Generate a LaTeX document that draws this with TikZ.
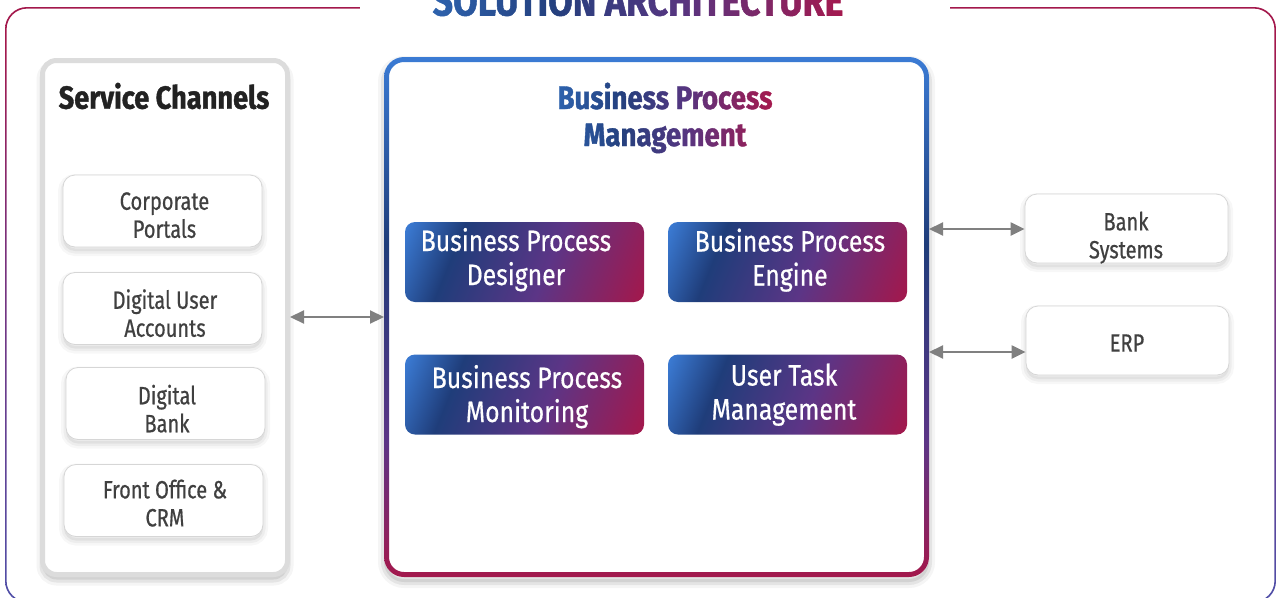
\documentclass[tikz,border=0pt]{standalone}
\usepackage{fontspec}
\setmainfont[FakeStretch=0.85]{Fira Sans}
\newfontfamily\medfont[FakeStretch=0.8, FakeBold=0.6]{Fira Sans}
\newfontfamily\boxfont[FakeStretch=0.84, FakeBold=0.5]{Fira Sans}
\newfontfamily\heavyfont[FakeStretch=0.85, FakeBold=1.2]{Fira Sans}
\usetikzlibrary{arrows.meta,fadings,calc}

\definecolor{gblue}{HTML}{3B7BD4}
\definecolor{gnavy}{HTML}{1F3D7A}
\definecolor{gpurple}{HTML}{5C3586}
\definecolor{gcrimson}{HTML}{A3184C}
\definecolor{tblue}{HTML}{2E64B0}
\definecolor{tnavy}{HTML}{24407E}
\definecolor{tpurple}{HTML}{573580}
\definecolor{tcrimson}{HTML}{A8184C}
\definecolor{fblue}{HTML}{4F4FA8}
\definecolor{fpurple}{HTML}{7A2F7A}
\definecolor{txtgray}{HTML}{404040}
\definecolor{titleblack}{HTML}{222222}
\definecolor{arrgray}{HTML}{808080}
\definecolor{panelgray}{HTML}{DCDCDC}
\definecolor{boxborder}{HTML}{D6D6D6}

\pgfdeclarehorizontalshading{boxgrad}{100bp}{color(0bp)=(gblue); color(18bp)=(gblue); color(32bp)=(gnavy); color(56bp)=(gpurple); color(82bp)=(gcrimson); color(100bp)=(gcrimson)}
\pgfdeclarehorizontalshading{titlegrad}{100bp}{color(0bp)=(tblue); color(25bp)=(tblue); color(40bp)=(tnavy); color(55bp)=(tpurple); color(75bp)=(tcrimson); color(100bp)=(tcrimson)}
\pgfdeclareverticalshading{bordgrad}{100bp}{color(0bp)=(gcrimson); color(25bp)=(gcrimson); color(38bp)=(gpurple); color(57bp)=(gnavy); color(75bp)=(gblue); color(100bp)=(gblue)}
\pgfdeclareverticalshading{framegrad}{100bp}{color(0bp)=(fblue); color(25bp)=(fblue); color(55bp)=(fpurple); color(72bp)=(gcrimson); color(100bp)=(gcrimson)}

\begin{document}
\pgfdeclarefading{titlefade}{%
  \pgfpicture
  \pgfpathrectangle{\pgfpoint{-260pt}{-40pt}}{\pgfpoint{520pt}{80pt}}%
  \pgfusepath{use as bounding box}%
  \pgftext[base]{\heavyfont\bfseries\fontsize{42}{42}\selectfont\color{white}SOLUTION ARCHITECTURE}%
  \endpgfpicture}%
\pgfdeclarefading{bpmfade}{%
  \pgfpicture
  \pgfpathrectangle{\pgfpoint{-160pt}{-60pt}}{\pgfpoint{320pt}{120pt}}%
  \pgfusepath{use as bounding box}%
  \pgftext[base,at={\pgfpoint{0pt}{19pt}}]{\heavyfont\bfseries\fontsize{32.5}{32.5}\selectfont\color{white}Business Process}%
  \pgftext[base,at={\pgfpoint{0pt}{-18pt}}]{\heavyfont\bfseries\fontsize{32.5}{32.5}\selectfont\color{white}Management}%
  \endpgfpicture}%
\begin{tikzpicture}[x=1pt, y=-1pt,
  softshadow/.style={
    preaction={draw=black, draw opacity=0.03, line width=10pt, transform canvas={yshift=-4pt}},
    preaction={draw=black, draw opacity=0.04, line width=5pt, transform canvas={yshift=-4pt}},
    preaction={fill=black, fill opacity=0.05, transform canvas={yshift=-4pt}}},
  panelshadow/.style={
    preaction={draw=black, draw opacity=0.04, line width=12pt, transform canvas={yshift=-5pt}},
    preaction={draw=black, draw opacity=0.07, line width=6pt, transform canvas={yshift=-5pt}},
    preaction={fill=black, fill opacity=0.08, transform canvas={yshift=-5pt}}},
  chanbox/.style={draw=boxborder, line width=0.8pt, fill=white, rounded corners=12pt,
    minimum width=199pt, minimum height=72pt, inner sep=0pt, softshadow},
  chantext/.style={align=center, text=txtgray, inner sep=0pt, text depth=0pt,
    font=\medfont\fontsize{25}{28}\selectfont},
  gradbox/.style={shade, shading=boxgrad, shading angle=-22, rounded corners=10pt,
    minimum width=239pt, minimum height=80pt, inner sep=0pt},
  gradtext/.style={align=center, text=white, inner sep=0pt, text depth=0pt,
    font=\boxfont\fontsize{29.5}{34}\selectfont},
  scpanel/.style={draw=panelgray, line width=5pt, fill=white, rounded corners=14pt,
    minimum width=245pt, minimum height=514pt, inner sep=0pt, panelshadow},
  bpmbox/.style={fill=white, rounded corners=20pt, minimum width=545pt, minimum height=520pt,
    inner sep=0pt, outer sep=0pt, panelshadow},
  biarrow/.style={draw=arrgray, line width=2.2pt, arrows={Triangle[length=14pt,width=13pt]-Triangle[length=14pt,width=13pt]}}
]
\useasboundingbox (0,0) rectangle (1281,597);

% outer frame
\shade[shading=framegrad, even odd rule]
  [rounded corners=22pt] (5,7) rectangle (1276,603)
  [rounded corners=20.5pt] (6.6,8.6) rectangle (1274.4,601.4);
\fill[white] (360,0) rectangle (950,12);

% title
\shade[path fading=titlefade, fit fading=false, fading transform={shift={(638,15.5)}},
  shading=titlegrad] (425,-30) rectangle (851,30);

% service channels
\node[scpanel] (sc) at (165,317.5) {};
\node[font=\heavyfont\bfseries\fontsize{32}{32}\selectfont, text=titleblack, inner sep=0pt] (sctitle) at (164,96) {Service Channels};
\node[chanbox] (cp) at (162.5,211) {};
\node[chanbox] (dua) at (162.5,308.5) {};
\node[chanbox] (db) at (165.5,403.5) {};
\node[chanbox] (fo) at (163.5,500.5) {};
\node[chantext] (cpt) at (164.5,215) {Corporate\\Portals};
\node[chantext] (duat) at (165,313) {Digital User\\Accounts};
\node[chantext] (dbt) at (167,408.5) {Digital\\Bank};
\node[chantext] (fot) at (165,503) {Front Office \&\\CRM};

% BPM panel
\node[bpmbox] (bpm) at (656.5,317) {};
\shade[shading=bordgrad, even odd rule]
  [rounded corners=20pt] (bpm.north west) rectangle (bpm.south east)
  [rounded corners=15pt] ([shift={(5,5)}]bpm.north west) rectangle ([shift={(-5,-5)}]bpm.south east);
\shade[path fading=bpmfade, fit fading=false, fading transform={shift={(665,128)}},
  shading=titlegrad] (555,60) rectangle (775,170);

\node[gradbox] (bpd) at (524.5,262) {};
\node[gradbox] (bpe) at (787.5,262) {};
\node[gradbox] (bpmon) at (524.5,394.5) {};
\node[gradbox] (utm) at (787.5,394.5) {};
\node[gradtext] (bpdt) at (516,256.5) {Business Process\\Designer};
\node[gradtext] (bpet) at (790,257) {Business Process\\Engine};
\node[gradtext] (bpmont) at (527,393.5) {Business Process\\Monitoring};
\node[gradtext] (utmt) at (784,391.5) {User Task\\Management};

% right systems
\node[chanbox, minimum width=203pt, minimum height=69pt] (bank) at (1126.5,228.5) {};
\node[chanbox, minimum width=203pt, minimum height=69pt] (erp) at (1127.5,340.5) {};
\node[chantext] (bankt) at (1126,235) {Bank\\Systems};
\node[chantext] (erpt) at (1127,343) {ERP};

% connectors
\coordinate (yl) at (0,317);
\coordinate (yb) at (0,229);
\coordinate (ye) at (0,352);
\draw[biarrow] (sc.east |- yl) -- (bpm.west |- yl);
\draw[biarrow] (bpm.east |- yb) -- (bank.west |- yb);
\draw[biarrow] (bpm.east |- ye) -- (erp.west |- ye);
\end{tikzpicture}
\end{document}
